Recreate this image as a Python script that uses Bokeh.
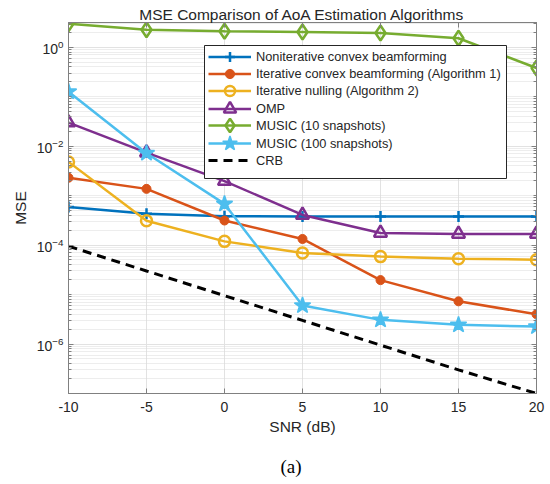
from bokeh.plotting import figure
from bokeh.models import (Range1d, FixedTicker, LinearAxis, LogAxis, Title,
                          CustomJSTickFormatter, Legend, LegendItem, BoxAnnotation)
from bokeh.embed import file_html
from bokeh.resources import INLINE

# ---- data ----
snr = [-10, -5, 0, 5, 10, 15, 20]
noniterative = [5.9e-4, 4.3e-4, 3.84e-4, 3.8e-4, 3.8e-4, 3.8e-4, 3.8e-4]
iter_convex = [2.3e-3, 1.37e-3, 3.14e-4, 1.33e-4, 1.96e-5, 7.3e-6, 4.0e-6]
iter_nulling = [4.8e-3, 3.1e-4, 1.19e-4, 6.9e-5, 5.85e-5, 5.3e-5, 5.08e-5]
omp = [3.0e-2, 7.4e-3, 1.97e-3, 4.07e-4, 1.76e-4, 1.68e-4, 1.68e-4]
music10 = [2.98, 2.25, 2.11, 2.03, 1.94, 1.52, 0.38]
music100 = [0.126, 7.2e-3, 6.8e-4, 6.0e-6, 3.08e-6, 2.44e-6, 2.25e-6]
crb = [9.5e-5, 3.0e-5, 9.5e-6, 3.0e-6, 9.5e-7, 3.0e-7, 1.0e-7]

x_ticks = [-10, -5, 0, 5, 10, 15, 20]
y_ticks = [1e-6, 1e-4, 1e-2, 1e0]

names = ["Noniterative convex beamforming",
         "Iterative convex beamforming (Algorithm 1)",
         "Iterative nulling (Algorithm 2)",
         "OMP",
         "MUSIC (10 snapshots)",
         "MUSIC (100 snapshots)",
         "CRB"]
colors = ["#0072BD", "#D95319", "#EDB120", "#7E2F8E", "#77AC30", "#4DBEEE", "#000000"]
title_text = "MSE Comparison of AoA Estimation Algorithms"
caption_text = "(a)"

FONT = "Liberation Sans"
AX = "#808080"
TXT = "#262626"
FRAME_W, FRAME_H = 468, 371

p = figure(frame_width=FRAME_W, frame_height=FRAME_H, y_axis_type="log",
           x_range=Range1d(-10, 20), y_range=Range1d(1e-7, 10 ** 0.5),
           output_backend="svg", toolbar_location=None,
           min_border_left=68, min_border_right=14, min_border_top=22,
           min_border_bottom=91, background_fill_color="white",
           border_fill_color="white")
p.outline_line_color = AX
p.outline_line_width = 1

minor = [k * 10.0 ** n for n in range(-7, 1) for k in range(1, 10)
         if not (k == 1 and n % 2 == 0) and k * 10.0 ** n <= 3.1]
yt = FixedTicker(ticks=y_ticks, minor_ticks=minor)
xt = FixedTicker(ticks=x_ticks)

p.xaxis.ticker = xt
p.yaxis.ticker = yt
p.xaxis.formatter = CustomJSTickFormatter(code="return tick.toString()")
for ax in (p.xaxis[0], p.yaxis[0]):
    ax.axis_line_color = AX
    ax.major_tick_line_color = AX
    ax.minor_tick_line_color = AX
    ax.major_tick_in = 5
    ax.major_tick_out = 0
    ax.minor_tick_out = 0
    ax.major_label_text_font = FONT
    ax.major_label_text_font_size = "14px"
    ax.major_label_text_color = TXT
    ax.axis_label_text_font = FONT
    ax.axis_label_text_font_size = "15.5px"
    ax.axis_label_text_font_style = "normal"
    ax.axis_label_text_color = TXT
p.xaxis.minor_tick_in = 0
p.yaxis.minor_tick_in = 3
p.xaxis.axis_label = "SNR (dB)"
p.yaxis.axis_label = "MSE"
p.xaxis.major_label_standoff = 8
p.xaxis.axis_label_standoff = 3
p.yaxis.major_label_standoff = 5
p.yaxis.axis_label_standoff = 5

# top axis: inner ticks + the chart title as its label
top_axis = LinearAxis(ticker=xt, formatter=CustomJSTickFormatter(code="return ''"),
                      major_label_text_color=None, major_label_text_font_size="1px",
                      major_label_standoff=0, major_tick_in=5, major_tick_out=0,
                      minor_tick_in=0, minor_tick_out=0,
                      axis_line_color=AX, major_tick_line_color=AX,
                      axis_label=title_text, axis_label_standoff=0,
                      axis_label_text_font=FONT, axis_label_text_font_size="15.5px",
                      axis_label_text_font_style="normal", axis_label_text_color=TXT)
right_axis = LogAxis(ticker=yt, formatter=CustomJSTickFormatter(code="return ''"),
                     major_label_text_color=None, major_label_text_font_size="1px",
                     major_label_standoff=0, major_tick_in=5, major_tick_out=0,
                     minor_tick_in=3, minor_tick_out=0,
                     axis_line_color=AX, major_tick_line_color=AX,
                     minor_tick_line_color=AX)
p.add_layout(top_axis, "above")
p.add_layout(right_axis, "right")

p.xgrid.ticker = xt
p.xgrid.grid_line_color = "#e2e2e2"
p.ygrid.grid_line_color = "#e2e2e2"
p.ygrid.minor_grid_line_color = "#dadada"
p.ygrid.minor_grid_line_dash = "1 1"

LW = 2.5
items = []
l = p.line(snr, noniterative, line_color=colors[0], line_width=LW)
s = p.scatter(snr, noniterative, marker="cross", size=11, line_color=colors[0],
              line_width=2.5)
items.append(([l, s], 25))
l = p.line(snr, iter_convex, line_color=colors[1], line_width=LW)
s = p.scatter(snr, iter_convex, marker="circle", size=9, line_color=colors[1],
              fill_color=colors[1], line_width=1)
items.append(([l, s], 23))
l = p.line(snr, iter_nulling, line_color=colors[2], line_width=LW)
s = p.scatter(snr, iter_nulling, marker="circle", size=11, line_color=colors[2],
              fill_color=None, line_width=2.5)
items.append(([l, s], 25))
l = p.line(snr, omp, line_color=colors[3], line_width=LW)
s = p.scatter(snr, omp, marker="triangle", size=13, line_color=colors[3],
              fill_color=None, line_width=2.5)
items.append(([l, s], 31))
l = p.line(snr, music10, line_color=colors[4], line_width=LW)
s = p.scatter(snr, music10, marker="diamond", size=15, line_color=colors[4],
              fill_color=None, line_width=2.5)
items.append(([l, s], 34))
l = p.line(snr, music100, line_color=colors[5], line_width=LW)
s = p.scatter(snr, music100, marker="star", size=17, line_color=colors[5],
              fill_color=colors[5], line_width=1.5)
items.append(([l, s], 38))
l = p.line(snr, crb, line_color=colors[6], line_width=3, line_dash="9 6")
items.append(([l], 20))

# legend: a framed box plus one single-item legend per entry (keeps markers large)
box_left, box_right, box_top, box_bottom = 136, 438, 348, 215  # screen px from frame bottom-left
p.add_layout(BoxAnnotation(left=box_left, right=box_right, top=box_top, bottom=box_bottom,
                           left_units="screen", right_units="screen",
                           top_units="screen", bottom_units="screen",
                           fill_color="white", fill_alpha=1.0,
                           line_color=TXT, line_width=1, line_alpha=1.0))
first_center, pitch = 337, 17.35  # item centres, px above frame bottom
for i, ((rends, gh), name) in enumerate(zip(items, names)):
    c = first_center - i * pitch
    leg = Legend(items=[LegendItem(label=name, renderers=rends)],
                 location=(box_left + 4, round(c - gh / 2)),
                 padding=0, margin=0, spacing=0,
                 glyph_width=43, glyph_height=gh, label_height=gh,
                 label_standoff=5, border_line_color=None,
                 background_fill_alpha=0.0,
                 label_text_font=FONT, label_text_font_size="12.8px",
                 label_text_color=TXT)
    p.add_layout(leg, "center")

caption = Title(text=caption_text, align="left", offset=212, standoff=32,
                text_font="Liberation Serif", text_font_size="19px",
                text_font_style="normal", text_color="black")
p.add_layout(caption, "below")

open("out.html", "w").write(file_html(p, INLINE))
